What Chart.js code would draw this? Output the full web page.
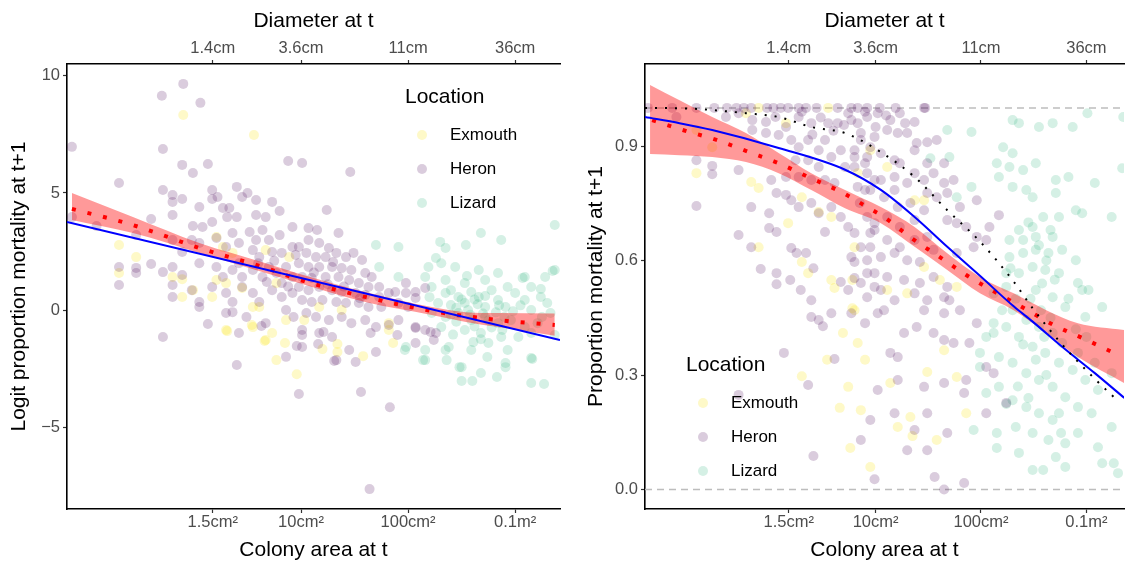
<!DOCTYPE html>
<html>
<head>
<meta charset="utf-8">
<title>Colony mortality</title>
<script src="https://cdn.jsdelivr.net/npm/chart.js"></script>
<style>
  body { margin: 0; background: #fff; }
  #left { position: absolute; left: 0; top: 0; }
  #right { position: absolute; left: 565px; top: 0; }
</style>
</head>
<body>
<canvas id="left" width="565" height="563"></canvas>
<canvas id="right" width="564" height="563"></canvas>

<script>
// x is log10 of colony area in cm2
const areaTicks = [Math.log10(1.5), 1, 2, 3];
const areaLabels = ['1.5cm²', '10cm²', '100cm²', '0.1m²'];
const diamLabels = ['1.4cm', '3.6cm', '11cm', '36cm'];
const logitTicks = [-5, 0, 5, 10];
const propTicks = [0, 0.3, 0.6, 0.9];
const locations = ['Exmouth', 'Heron', 'Lizard'];

// ---- left panel: logit proportion mortality ----
const heronLeft = [[-1.14,6.97],[-0.30,9.15],[-0.10,9.66],[0.06,8.85],[-0.29,6.88],[-0.70,5.43],[-0.11,6.2],[0.13,6.24],[-0.01,5.85],[0.88,6.37],
  [-0.29,5.13],[-0.2,4.91],[-0.2,4.62],[-0.11,4.74],[-0.40,3.89],[-0.2,4.06],[-0.54,3.2],[-0.54,1.8],[-0.54,1.58],[-0.70,1.84],
  [-0.70,1.07],[-0.40,1.97],[-0.29,1.62],[-0.29,-1.15],[-0.01,3.59],[0.05,4.4],[0.08,3.55],[-0.02,2.99],[-0.2,2.99],[-0.11,2.48],
  [0.05,2.0],[-0.2,1.84],[-0.2,1.07],[-0.11,1.5],[-0.02,0.85],[-0.2,0.56],[0.05,0.34],[0.05,0.13],[0.13,-0.6],[0.17,5.13],
  [0.22,4.83],[0.17,4.74],[0.27,4.36],[0.33,4.36],[0.17,3.76],[0.31,3.97],[0.40,3.97],[0.40,5.26],[0.50,5.0],[0.58,4.7],
  [0.45,4.83],[0.73,4.62],[0.80,4.23],[0.67,3.97],[0.58,4.06],[0.05,2.86],[0.21,3.08],[0.30,2.69],[0.36,3.29],[0.42,2.86],
  [0.52,3.33],[0.64,3.42],[0.58,2.99],[0.70,2.99],[0.80,3.2],[0.92,3.55],[0.55,2.56],[0.61,2.26],[0.73,2.48],[0.82,2.44],
  [0.92,2.69],[0.21,1.84],[0.27,1.41],[0.17,0.98],[0.36,1.71],[0.42,2.0],[0.45,1.41],[0.55,1.71],[0.64,1.41],[0.70,1.84],
  [0.77,1.58],[0.86,1.84],[0.92,1.41],[0.82,1.15],[0.30,0.73],[0.36,0.34],[0.45,0.98],[0.55,0.73],[0.61,0.34],[0.73,0.85],
  [0.82,0.56],[0.92,0.73],[0.36,-0.09],[0.49,-0.30],[0.30,-0.13],[0.42,-0.98],[0.86,0.0],[0.86,-2.0],[0.40,-2.35],[0.67,-0.56],
  [0.93,-0.30],[1.01,6.28],[1.46,5.9],[1.24,4.27],[1.07,3.5],[1.15,3.42],[1.35,3.29],[1.07,2.99],[1.17,2.86],[0.98,2.69],
  [1.26,2.65],[1.05,2.44],[1.14,2.26],[1.23,2.26],[1.33,2.44],[1.42,2.26],[1.49,2.44],[1.57,2.14],[0.98,2.0],[1.07,1.84],
  [1.17,1.84],[1.29,1.84],[1.38,1.79],[1.47,1.71],[1.60,1.58],[1.66,1.41],[1.01,1.41],[1.10,1.37],[1.23,1.41],[1.35,1.41],
  [1.45,1.28],[1.54,1.15],[1.63,0.98],[1.73,0.98],[0.98,0.98],[1.07,0.85],[1.17,0.98],[1.29,0.85],[1.38,0.77],[1.51,0.73],
  [1.60,0.64],[1.73,0.56],[1.82,0.73],[1.88,0.77],[1.98,0.73],[2.07,0.77],[2.16,0.94],[1.98,1.15],[2.07,0.51],[1.01,0.43],
  [1.10,0.34],[1.20,0.43],[1.33,0.34],[1.42,0.30],[1.54,0.30],[1.63,0.13],[1.75,0.13],[1.91,0.30],[2.00,0.13],[1.05,-0.13],
  [1.14,-0.30],[1.26,-0.43],[1.38,-0.30],[1.47,-0.56],[1.60,-0.43],[1.70,-0.73],[1.82,-0.64],[1.91,-0.43],[2.07,-0.73],[2.16,-0.85],
  [2.26,-0.98],[1.01,-0.85],[1.17,-0.98],[1.29,-1.15],[1.45,-1.71],[1.70,-1.79],[1.01,-1.58],[1.33,-2.14],[1.51,-2.22],[0.63,-0.68],
  [0.96,-1.54],[1.01,-1.07],[0.98,-3.59],[1.16,-1.45],[1.21,-0.94],[1.31,-2.18],[1.56,-3.5],[1.65,-0.98],[1.83,-4.15],[1.64,-7.65],
  [1.90,-1.07],[2.07,-1.41],[2.24,-1.28],[2.07,-0.77],[2.21,-0.94],[-0.91,3.59],[-1.14,3.97],
  [0.6,2.0],[0.75,2.1],[0.88,1.0],[1.12,1.6],[1.25,1.1],[1.4,1.0],[1.55,0.5],[0.95,2.35],[1.3,2.05],[0.68,1.2]];
const exmouthLeft = [[0.56,7.48],[-0.10,8.33],[-0.70,2.78],[-0.54,2.26],[-0.70,1.58],[-0.2,1.41],[-0.11,1.32],[-0.01,0.85],[-0.11,0.56],[0.21,3.12],
  [0.27,2.69],[0.36,2.44],[0.21,1.28],[0.30,1.15],[0.45,0.94],[0.55,0.13],[0.61,0.13],[0.77,1.15],[0.30,-0.85],[0.55,-0.73],
  [0.67,-1.28],[0.73,-0.98],[0.77,-2.14],[0.86,-0.43],[0.67,2.56],[0.89,2.26],[0.17,0.56],[0.31,-0.90],[0.66,-1.32],[0.85,-1.41],
  [0.96,-2.74],[1.20,-1.67],[1.34,-1.45],[1.34,-1.79],[1.58,-1.97],[1.86,-1.41],[0.54,-0.64],[1.82,-0.85],[1.17,0.13],[1.38,0.0],
  [1.82,-0.56],[1.03,-0.43]];
const lizardLeft = [[3.37,3.63],[2.68,3.29],[2.87,2.99],[2.30,2.91],[2.54,2.78],[1.91,2.69],[2.35,2.65],[1.70,2.78],[2.26,2.22],[2.19,1.84],
  [2.31,2.0],[2.44,1.84],[2.66,1.71],[2.84,1.58],[3.09,1.41],[3.37,1.71],[1.73,1.84],[1.91,1.41],[2.16,1.41],[2.35,1.28],
  [2.53,1.15],[2.72,1.28],[2.93,0.98],[3.15,0.98],[3.28,1.41],[2.22,0.98],[2.40,0.85],[2.59,0.77],[2.78,0.85],[3.0,0.73],
  [2.47,0.56],[2.66,0.56],[2.84,0.43],[3.09,0.43],[3.24,0.56],[2.28,0.30],[2.40,0.21],[2.53,0.30],[2.72,0.13],[2.91,0.13],
  [3.15,0.0],[3.33,-0.13],[2.22,-0.13],[2.35,-0.30],[2.47,-0.13],[2.59,-0.43],[2.72,-0.30],[2.84,-0.56],[2.96,-0.43],[3.09,-0.73],
  [3.21,-0.56],[2.31,-0.73],[2.53,-0.85],[2.68,-0.98],[2.87,-1.15],[3.03,-1.15],[3.15,-0.98],[1.98,-1.58],[2.16,-1.71],[2.38,-1.58],
  [2.59,-1.71],[2.75,-1.41],[2.93,-1.71],[3.15,-2.05],[2.16,-2.14],[2.50,-2.44],[2.91,-2.44],[1.97,-1.71],[2.14,-2.14],[2.36,-2.14],
  [2.48,-2.44],[2.50,-3.03],[2.60,-3.03],[2.68,-2.69],[2.83,-2.86],[2.91,-2.26],[3.16,-2.09],[3.15,-3.12],[3.27,-3.16],[2.61,-1.37],
  [2.35,-1.71],[2.74,-2.01],[3.35,1.67],[3.24,0.90],[3.07,1.37],[3.37,-1.07],[2.35,0.73],[2.72,0.6],[2.56,0.0],[2.65,0.25],
  [2.82,-0.1],[2.45,-0.5],[2.62,-0.7],[2.78,-0.75],[2.9,-0.3],[2.5,0.45],[2.4,-0.2],[2.7,-0.15],[2.85,0.2],[2.58,-0.2],
  [2.45,0.1],[2.62,0.45],[2.75,-0.45],[2.98,-0.05],[3.05,0.2],[2.88,-0.85],[2.42,-1.05],[2.68,-1.25],[3.25,-0.3],[3.3,0.3],
  [2.2,0.55],[2.55,1.45]];

const leftLine = [[-1.186,3.76],[3.419,-1.28]];
const leftFitX = [-1.14,-0.57,0.05,0.67,0.98,1.60,2.22,2.54,2.84,3.37];
const leftFitMid = [4.32,3.63,2.65,1.8,1.3,0.56,-0.04,-0.26,-0.43,-0.64];
const leftFitHi = [5.0,3.97,2.86,2.0,1.55,0.77,0.13,-0.09,-0.13,-0.15];
const leftFitLo = [3.85,3.29,2.44,1.58,1.15,0.34,-0.21,-0.51,-0.73,-1.1];

// ---- right panel: proportion mortality ----
const heronRight = [[-1.16,1],[-0.93,1],[-0.70,1],[-0.53,1],[-0.41,1],[-0.32,1],[-0.25,1],[-0.18,1],[-0.03,1],[0.03,1],
  [0.10,1],[0.17,1],[0.27,1],[0.34,1],[0.44,1],[0.64,1],[0.77,1],[0.83,1],[0.92,1],[1.04,1],[1.19,1],[1.47,1],
  [-0.70,0.863],[-0.55,0.848],[-0.55,0.826],[-0.70,0.743],[-0.30,0.837],[-0.18,0.740],[-0.30,0.667],[-0.18,0.635],[-0.01,0.724],[-0.01,0.685],
  [0.06,0.675],[-0.09,0.578],[0.06,0.567],[0.06,0.538],[0.19,0.549],[0.25,0.620],[0.34,0.620],[0.29,0.523],[0.39,0.496],[0.41,0.580],
  [0.52,0.675],[0.20,0.633],[0.06,0.777],[0.15,0.772],[0.20,0.758],[0.27,0.740],[0.39,0.751],[0.46,0.724],[0.58,0.740],[0.67,0.714],
  [0.74,0.688],[0.80,0.672],[0.92,0.714],[0.95,0.672],[0.86,0.635],[0.95,0.635],[0.77,0.609],[0.92,0.601],[0.80,0.554],[0.67,0.544],
  [0.74,0.523],[0.92,0.567],[0.99,0.531],[0.92,0.504],[0.46,0.444],[0.58,0.462],[0.77,0.462],[0.20,0.916],[0.27,0.897],[0.36,0.916],
  [0.46,0.889],[0.52,0.916],[0.58,0.871],[0.67,0.889],[0.71,0.845],[0.80,0.871],[0.90,0.855],[0.95,0.897],[0.86,0.934],[0.77,0.968],
  [0.64,0.960],[0.39,0.960],[0.15,0.950],[0.27,0.976],[0.05,0.976],[-0.04,0.963],[-0.17,0.968],[-0.30,0.986],[-0.42,0.976],[-0.17,0.942],
  [-0.04,0.934],[0.08,0.929],[0.24,0.863],[0.36,0.863],[0.46,0.845],[0.52,0.811],[0.61,0.803],[0.39,0.811],[0.27,0.819],[0.15,0.819],
  [0.01,0.811],[0.99,0.811],[0.90,0.785],[0.85,0.751],[0.99,0.698],[-0.89,0.976],[0.74,0.986],[0.83,0.960],[0.92,0.976],[1.02,0.986],
  [1.14,0.968],[1.23,0.986],[1.37,0.963],[1.46,1.0],[0.86,0.916],[0.99,0.924],[1.11,0.942],[1.21,0.934],[1.30,0.934],[1.39,0.908],
  [1.49,0.910],[1.58,0.916],[0.80,0.889],[0.92,0.871],[1.05,0.881],[1.18,0.863],[1.23,0.855],[1.37,0.889],[1.49,0.855],[0.80,0.845],
  [0.92,0.829],[1.05,0.811],[1.18,0.819],[1.30,0.803],[1.37,0.829],[1.46,0.811],[1.55,0.829],[1.65,0.803],[1.49,0.777],[1.58,0.766],
  [0.83,0.793],[0.95,0.785],[1.08,0.766],[1.18,0.785],[1.21,0.740],[1.33,0.751],[1.46,0.732],[1.37,0.706],[1.23,0.688],[1.11,0.714],
  [0.99,0.680],[1.11,0.654],[1.23,0.635],[1.37,0.654],[1.49,0.662],[1.55,0.628],[1.30,0.601],[1.42,0.596],[1.18,0.620],[1.05,0.609],
  [0.80,0.596],[0.99,0.567],[1.11,0.557],[1.27,0.549],[1.42,0.541],[1.55,0.557],[1.68,0.531],[0.86,0.541],[1.05,0.523],[1.18,0.496],
  [1.37,0.514],[1.49,0.496],[1.65,0.504],[1.70,0.496],[1.80,0.470],[1.46,0.470],[1.65,0.462],[1.02,0.462],[1.08,0.470],[0.90,0.436],
  [1.27,0.410],[1.39,0.426],[1.55,0.410],[1.65,0.392],[1.74,0.384],[1.89,0.384],[1.14,0.358],[1.21,0.347],[1.02,0.261],[1.21,0.287],
  [1.46,0.269],[1.65,0.279],[1.84,0.253],[2.05,0.321],[2.12,0.305],[2.24,0.227],[2.05,0.200],[1.49,0.200],[1.18,0.200],[0.95,0.182],
  [1.37,0.156],[1.68,0.148],[0.86,0.130],[1.30,0.103],[1.49,0.103],[1.96,0.758],[2.17,0.719],[2.08,0.688],[1.96,0.662],[2.05,0.654],
  [1.93,0.635],[1.77,0.620],[1.68,0.706],[1.77,0.698],[1.80,0.740],[1.86,0.688],[1.68,0.777],[1.74,0.811],[1.65,0.855],[1.86,0.287],
  [0.13,0.358],[0.39,0.452],[0.50,0.428],[0.61,0.342],[0.36,0.274],[0.41,0.088],[-0.30,0.248],[0.99,0.027],[1.56,0.033],[1.65,0.0],
  [1.84,0.017],[1.96,0.436],
  [0.30,0.99],[0.48,0.975],[0.60,0.94],[0.70,0.955],[1.0,0.95],[1.10,0.98],[1.28,0.96],[0.40,0.93],[0.55,0.96],[0.9,0.99]];
const exmouthRight = [[-0.11,1],[0.55,1],[-0.70,0.942],[-0.55,0.897],[-0.70,0.829],[-0.18,0.806],[-0.11,0.790],[-0.11,0.635],[0.17,0.698],[0.30,0.766],
  [0.46,0.727],[0.58,0.714],[0.30,0.596],[0.36,0.567],[0.58,0.549],[0.61,0.528],[0.78,0.549],[0.78,0.475],[-0.23,0.986],[0.15,0.960],
  [0.83,0.829],[0.80,0.635],[0.80,0.470],[0.83,0.384],[0.90,0.340],[0.74,0.269],[0.86,0.208],[0.95,0.059],[1.11,0.523],[1.30,0.514],
  [1.46,0.583],[1.46,0.758],[1.37,0.758],[1.61,0.549],[1.77,0.531],[1.77,0.295],[1.65,0.365],[1.86,0.200],[1.14,0.279],[1.33,0.190],
  [1.58,0.130],[1.21,0.164],[0.95,0.889],[1.11,0.845],[0.30,0.297],[0.54,0.340],[0.69,0.410],[0.66,0.214],[1.35,0.140],[0.76,0.109],
  [1.49,0.308]];
const lizardRight = [[1.68,0.942],[1.91,0.937],[1.70,0.871],[1.52,0.868],[1.91,0.793],[1.77,0.766],[2.30,0.968],[2.36,0.960],[2.21,0.897],[2.30,0.881],
  [2.15,0.855],[2.27,0.845],[2.40,0.837],[2.52,0.855],[2.17,0.819],[2.30,0.793],[2.43,0.785],[2.49,0.766],[2.55,0.950],[2.68,0.960],
  [2.87,0.950],[2.71,0.811],[2.83,0.819],[2.90,0.732],[2.96,0.724],[3.08,0.803],[3.24,0.714],[3.34,0.842],[2.71,0.777],[2.59,0.714],
  [2.74,0.714],[2.49,0.688],[2.36,0.680],[2.27,0.654],[2.40,0.654],[2.52,0.662],[2.68,0.662],[2.77,0.628],[2.64,0.620],[2.52,0.628],
  [2.40,0.620],[2.27,0.609],[2.90,0.601],[2.49,0.583],[2.61,0.575],[2.74,0.567],[2.36,0.567],[2.24,0.567],[2.96,0.523],[3.02,0.523],
  [2.80,0.478],[2.68,0.504],[2.52,0.523],[2.24,0.531],[2.12,0.514],[2.30,0.470],[2.43,0.444],[2.55,0.426],[2.68,0.410],[2.77,0.384],
  [2.92,0.358],[3.08,0.332],[3.24,0.305],[2.24,0.426],[2.12,0.410],[2.36,0.400],[2.49,0.374],[2.61,0.358],[2.74,0.332],[2.87,0.313],
  [2.99,0.287],[3.11,0.261],[1.99,0.358],[2.05,0.400],[2.17,0.347],[2.30,0.332],[2.43,0.305],[2.55,0.287],[2.68,0.269],[2.80,0.242],
  [2.92,0.216],[3.05,0.200],[2.17,0.269],[2.05,0.253],[2.30,0.234],[2.43,0.216],[2.55,0.200],[2.68,0.182],[1.93,0.156],[2.15,0.148],
  [2.33,0.164],[2.49,0.148],[2.64,0.130],[2.80,0.121],[2.92,0.148],[3.11,0.111],[3.24,0.164],[2.36,0.096],[2.49,0.051],[2.59,0.051],
  [2.80,0.059],[3.30,0.043],[2.15,0.109],[2.24,0.224],[2.12,0.436],[1.99,0.321],[3.01,0.986],[3.35,0.976],[2.66,0.680],[2.92,0.541],
  [3.15,0.478],[2.99,0.452],[2.74,0.200],[2.76,0.148],[2.71,0.085],[3.15,0.069],[3.26,0.069],
  [2.45,0.70],[2.55,0.64],[2.62,0.60],[2.58,0.54],[2.47,0.50],[2.57,0.47],[2.66,0.45],[2.70,0.55],[2.60,0.40],[2.52,0.34],
  [2.40,0.38],[2.33,0.50],[2.20,0.47],[2.28,0.58],[2.62,0.30],[2.35,0.27],[2.45,0.24],[2.90,0.42],[2.83,0.50],[3.00,0.40]];

const rightBlueX = [-1.188,-0.86,-0.55,0.08,0.71,1.05,1.37,1.68,1.99,2.31,2.49,2.77,3.08,3.36];
const rightBlueY = [0.976,0.960,0.942,0.895,0.838,0.785,0.714,0.636,0.56,0.48,0.44,0.374,0.305,0.240];
const rightDotX = [-1.188,-0.75,-0.23,0.08,0.39,0.71,1.05,1.37,1.68,1.99,2.31,2.49,2.77,3.08,3.30];
const rightDotY = [1.0,0.998,0.986,0.976,0.95,0.934,0.884,0.819,0.732,0.650,0.545,0.475,0.38,0.29,0.232];
const rightFitX = [-1.12,-0.83,-0.51,-0.20,0.08,0.36,0.67,0.94,1.08,1.33,1.61,1.86,2.13,2.41,2.69,2.97,3.27];
const rightFitMid = [0.968,0.942,0.916,0.884,0.855,0.819,0.780,0.737,0.714,0.661,0.609,0.562,0.518,0.475,0.431,0.396,0.357];
const rightBandX = [-1.14,-0.86,-0.55,-0.23,0.08,0.39,0.71,1.05,1.37,1.68,1.99,2.31,2.62,2.92,3.36];
const rightBandHi = [1.06,1.02,0.976,0.934,0.882,0.829,0.785,0.740,0.688,0.619,0.557,0.514,0.470,0.436,0.418];
const rightBandLo = [0.879,0.876,0.871,0.858,0.829,0.785,0.737,0.698,0.636,0.575,0.514,0.470,0.410,0.347,0.279];

const colors = {
  Exmouth: 'rgba(253,231,37,0.25)',
  Heron: 'rgba(68,1,84,0.2)',
  Lizard: 'rgba(45,178,125,0.2)'
};

const FONT = 'Liberation Sans, Arial, sans-serif';
Chart.defaults.font.family = FONT;

const pts = arr => arr.map(p => ({x: p[0], y: p[1]}));
const zip = (xs, ys) => xs.map((x, i) => ({x: x, y: ys[i]}));

function pointSet(arr, col) {
  return {data: pts(arr), backgroundColor: col, borderWidth: 0, pointRadius: 5, pointHoverRadius: 5, order: 10};
}
function lineSet(data, opts) {
  return Object.assign({data: data, showLine: true, pointRadius: 0, fill: false, borderWidth: 2,
    cubicInterpolationMode: 'monotone', order: 1}, opts);
}

// legend drawn inside the panel, ggplot style
const locLegend = {
  id: 'locLegend',
  afterDatasetsDraw(chart, args, o) {
    const ctx = chart.ctx;
    ctx.save();
    ctx.fillStyle = '#000';
    ctx.textBaseline = 'middle';
    ctx.font = '21px ' + FONT;
    ctx.fillText('Location', o.x, o.y);
    locations.forEach((name, i) => {
      const y = o.y + 38 + i * 34;
      ctx.fillStyle = colors[name];
      ctx.beginPath();
      ctx.arc(o.x + 17, y, 5, 0, Math.PI * 2);
      ctx.fill();
      ctx.fillStyle = '#000';
      ctx.font = '17px ' + FONT;
      ctx.fillText(name, o.x + 45, y);
    });
    ctx.restore();
  }
};

const minus = v => (v < 0 ? '\u2212' + Math.abs(v) : String(v));

function scales(cfg) {
  const tickFont = {family: FONT, size: 16.5};
  const titleFont = {family: FONT, size: 21};
  const grid = {drawOnChartArea: false, drawTicks: true, tickLength: 4, color: '#333', tickWidth: 1.2};
  const border = {display: true, color: '#000', width: 1.6};
  return {
    x: {
      type: 'linear', position: 'bottom', min: cfg.xmin, max: cfg.xmax,
      afterBuildTicks: s => { s.ticks = areaTicks.map(v => ({value: v})); },
      ticks: {callback: (v, i) => areaLabels[i], color: '#4d4d4d', font: tickFont, padding: 0, maxRotation: 0, autoSkip: false},
      grid: grid, border: border,
      title: {display: true, text: 'Colony area at t', color: '#000', font: titleFont, padding: {top: 0, bottom: 0}},
      afterFit: s => { s.height = 54; }
    },
    x2: {
      type: 'linear', position: 'top', min: cfg.xmin, max: cfg.xmax,
      afterBuildTicks: s => { s.ticks = areaTicks.map(v => ({value: v})); },
      ticks: {callback: (v, i) => diamLabels[i], color: '#4d4d4d', font: tickFont, padding: 2, maxRotation: 0, autoSkip: false},
      grid: grid, border: border,
      title: {display: true, text: 'Diameter at t', color: '#000', font: titleFont, padding: {top: 9, bottom: 0}},
      afterFit: s => { s.height = 64; }
    },
    y: {
      type: 'linear', position: 'left', min: cfg.ymin, max: cfg.ymax,
      afterBuildTicks: s => { s.ticks = cfg.yticks.map(v => ({value: v})); },
      ticks: {callback: cfg.ylabel, color: '#4d4d4d', font: tickFont, padding: 3},
      grid: grid, border: border,
      title: {display: true, text: cfg.ytitle, color: '#000', font: titleFont, padding: {top: cfg.ytitlePad, bottom: 0}},
      afterFit: s => { s.width = cfg.ywidth; }
    }
  };
}

const common = {
  responsive: false,
  animation: false,
  events: [],
  plugins: {legend: {display: false}, tooltip: {enabled: false}}
};

new Chart(document.getElementById('left'), {
  type: 'scatter',
  data: {datasets: [
    lineSet(zip(leftFitX, leftFitHi), {borderWidth: 0, fill: '+1', backgroundColor: 'rgba(255,0,0,0.4)', order: 5}),
    lineSet(zip(leftFitX, leftFitLo), {borderWidth: 0, order: 5}),
    lineSet(pts(leftLine), {borderColor: '#0000ff', borderWidth: 2, cubicInterpolationMode: 'default'}),
    lineSet(zip(leftFitX, leftFitMid), {borderColor: '#ff0000', borderWidth: 4, borderDash: [4, 12], borderCapStyle: 'butt'}),
    pointSet(heronLeft, colors.Heron),
    pointSet(exmouthLeft, colors.Exmouth),
    pointSet(lizardLeft, colors.Lizard)
  ]},
  options: Object.assign({}, common, {
    layout: {padding: {left: 0, right: 3, top: 0, bottom: 0}},
    scales: scales({xmin: -1.186, xmax: 3.419, ymin: -8.5, ymax: 10.51, yticks: logitTicks,
      ylabel: v => minus(v), ytitle: 'Logit proportion mortality at t+1', ytitlePad: 7, ywidth: 67}),
    plugins: Object.assign({}, common.plugins, {locLegend: {x: 405, y: 97}})
  }),
  plugins: [locLegend]
});

new Chart(document.getElementById('right'), {
  type: 'scatter',
  data: {datasets: [
    lineSet([{x: -1.188, y: 1}, {x: 3.36, y: 1}], {borderColor: '#bdbdbd', borderWidth: 1.5, borderDash: [7, 5], order: 20, cubicInterpolationMode: 'default'}),
    lineSet([{x: -1.188, y: 0}, {x: 3.36, y: 0}], {borderColor: '#bdbdbd', borderWidth: 1.5, borderDash: [7, 5], order: 20, cubicInterpolationMode: 'default'}),
    lineSet(zip(rightBandX, rightBandHi), {borderWidth: 0, fill: '+1', backgroundColor: 'rgba(255,0,0,0.4)', order: 5}),
    lineSet(zip(rightBandX, rightBandLo), {borderWidth: 0, order: 5}),
    lineSet(zip(rightDotX, rightDotY), {borderColor: '#000', borderWidth: 2, borderDash: [2, 8], borderCapStyle: 'butt'}),
    lineSet(zip(rightBlueX, rightBlueY), {borderColor: '#0000ff', borderWidth: 2}),
    lineSet(zip(rightFitX, rightFitMid), {borderColor: '#ff0000', borderWidth: 4, borderDash: [4, 12], borderCapStyle: 'butt'}),
    pointSet(heronRight, colors.Heron),
    pointSet(exmouthRight, colors.Exmouth),
    pointSet(lizardRight, colors.Lizard)
  ]},
  options: Object.assign({}, common, {
    layout: {padding: 0},
    scales: scales({xmin: -1.188, xmax: 3.357, ymin: -0.051, ymax: 1.115, yticks: propTicks,
      ylabel: v => v.toFixed(1), ytitle: 'Proportion mortality at t+1', ytitlePad: 19, ywidth: 80}),
    plugins: Object.assign({}, common.plugins, {locLegend: {x: 121, y: 365}})
  }),
  plugins: [locLegend]
});
</script>
</body>
</html>
